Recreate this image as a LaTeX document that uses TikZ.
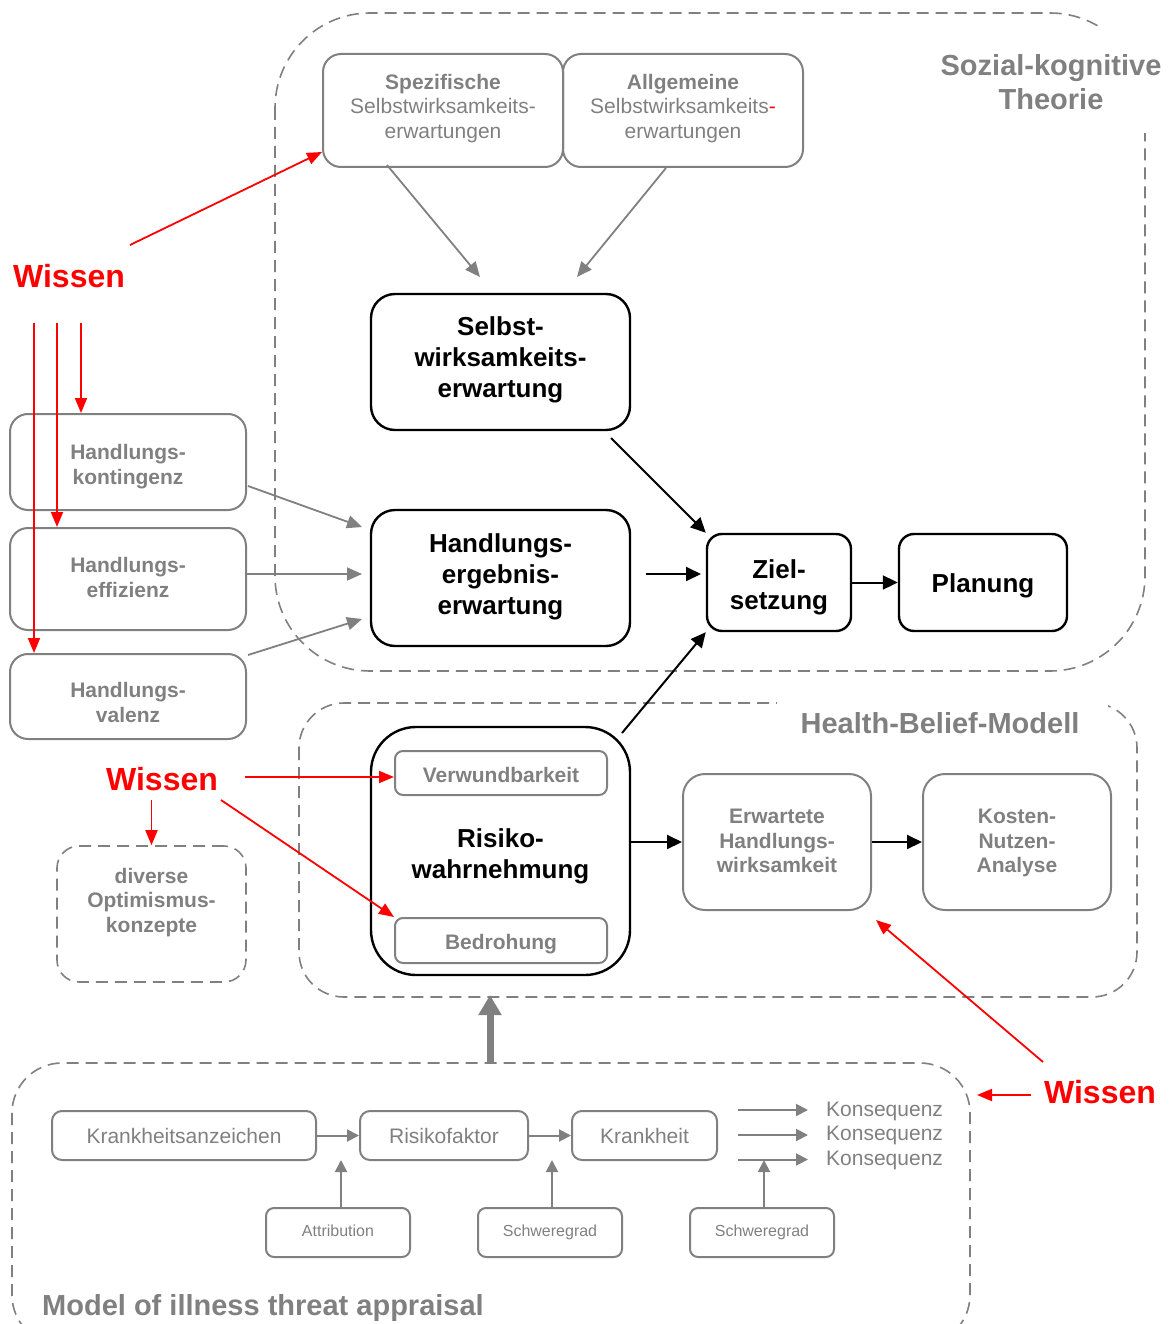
\documentclass[tikz,border=0pt]{standalone}
\usepackage{fontspec}
\setmainfont{Liberation Sans}
\usetikzlibrary{arrows.meta}
\definecolor{gr}{HTML}{808080}
\definecolor{rd}{HTML}{FF0000}
\newcommand\fsT{\fontsize{29}{34}\selectfont\bfseries}
\newcommand\fsW{\fontsize{32}{36}\selectfont\bfseries}
\newcommand\fsB{\fontsize{26}{31}\selectfont\bfseries}
\newcommand\fsG{\fontsize{21}{24.5}\selectfont}
\newcommand\fsS{\fontsize{16}{19}\selectfont}
\begin{document}
\begin{tikzpicture}[x=1pt,y=-1pt,
  dbox/.style={draw=gr, line width=1.6pt, dash pattern=on 12pt off 7pt, rounded corners=#1},
  gbox/.style={draw=gr, line width=2pt, rounded corners=#1, text=gr, align=center, inner sep=0pt},
  bbox/.style={draw=black, line width=2.4pt, rounded corners=#1, align=center, inner sep=0pt, font=\fsB},
  btxt/.style={inner sep=0pt, align=center, font=\fsB},
  gtxt/.style={inner sep=0pt, align=center, text=gr, font=\fsG\bfseries},
  garr/.style={draw=gr, line width=1.8pt, -{Triangle[length=15pt,width=13pt]}},
  sarr/.style={draw=gr, line width=2pt, -{Triangle[length=12pt,width=12pt]}},
  barr/.style={draw=black, line width=2pt, -{Triangle[length=15pt,width=14pt]}},
  rarr/.style={draw=rd, line width=1.8pt, -{Triangle[length=15pt,width=12pt]}},
  wissen/.style={text=rd, font=\fsW, inner sep=0pt},
  ttl/.style={text=gr, font=\fsT, align=center, inner sep=0pt},
]
\useasboundingbox (0,0) rectangle (1171,1324);

% ---------- dashed frames ----------
\draw[dbox=95] (275,13) rectangle (1145,671);
\fill[white] (1097,26) rectangle (1171,133);
\node[ttl] (tsoz) at (1051,82) {Sozial-kognitive\\Theorie};

\draw[dbox=45] (299,703) rectangle (1137,997);
\fill[white] (777,695) rectangle (1108,712);
\node[ttl] (thbm) at (940,723) {Health-Belief-Modell};

\draw[dbox=50] (12,1063) rectangle (970,1345);
\node[ttl, anchor=west] (tmod) at (42,1308) {Model of illness threat appraisal};

% ---------- top: social-cognitive ----------
\node[gbox=18pt, minimum width=240pt, minimum height=113pt,
  label={[gtxt, font=\fsG, yshift=2pt]center:{{\bfseries Spezifische}\\Selbstwirksamkeits-\\erwartungen}}] (spez) at (443,110.5) {};
\node[gbox=18pt, minimum width=240pt, minimum height=113pt,
  label={[gtxt, font=\fsG, yshift=2pt]center:{{\bfseries Allgemeine}\\Selbstwirksamkeits\textcolor{rd}{-}\\erwartungen}}] (allg) at (683,110.5) {};

\node[bbox=24pt, minimum width=259pt, minimum height=136pt,
  label={[btxt, yshift=2pt]center:{Selbst-\\wirksamkeits-\\erwartung}}] (swe) at (500.5,362) {};
\node[bbox=24pt, minimum width=259pt, minimum height=136pt,
  label={[btxt, yshift=1pt]center:{Handlungs-\\ergebnis-\\erwartung}}] (heg) at (500.5,578) {};
\node[bbox=15pt, minimum width=144pt, minimum height=97pt,
  label={[btxt, yshift=-5pt]center:{Ziel-\\setzung}}] (ziel) at (779,582.5) {};
\node[bbox=15pt, minimum width=168pt, minimum height=97pt,
  label={[btxt, yshift=-3pt]center:{Planung}}] (plan) at (983,582.5) {};

\node[gbox=18pt, minimum width=236pt, minimum height=96pt,
  label={[gtxt, yshift=-4.5pt]center:{Handlungs-\\kontingenz}}] (hk) at (128,462) {};
\node[gbox=18pt, minimum width=236pt, minimum height=102pt,
  label={[gtxt, yshift=1.5pt]center:{Handlungs-\\effizienz}}] (he) at (128,579) {};
\node[gbox=18pt, minimum width=236pt, minimum height=85pt,
  label={[gtxt, yshift=-6pt]center:{Handlungs-\\valenz}}] (hv) at (128,696.5) {};

% gray arrows into SWE
\coordinate (spez-o) at (387,165);
\coordinate (swe-i1) at (480,277);
\coordinate (allg-o) at (666,168);
\coordinate (swe-i2) at (577,277);
\draw[garr] (spez-o) -- (swe-i1);
\draw[garr] (allg-o) -- (swe-i2);

% gray arrows into HEG
\coordinate (hk-o) at (248,486);
\coordinate (heg-i1) at (362,527);
\coordinate (he-o) at (246,574);
\coordinate (heg-i2) at (362,574);
\coordinate (hv-o) at (248,655);
\coordinate (heg-i3) at (362,619);
\draw[garr] (hk-o) -- (heg-i1);
\draw[garr] (he-o) -- (heg-i2);
\draw[garr] (hv-o) -- (heg-i3);

% black arrows
\coordinate (swe-o) at (611,438);
\draw[barr] (swe-o) -- (ziel.north west);
\coordinate (heg-o) at (646,574);
\coordinate (ziel-i) at (701,574);
\draw[barr] (heg-o) -- (ziel-i);
\draw[barr] (ziel.east) -- (plan.west);

% ---------- Health belief ----------
\node[bbox=45pt, minimum width=259pt, minimum height=248pt,
  label={[btxt, yshift=-5.5pt]center:{Risiko-\\wahrnehmung}}] (risk) at (500.5,851) {};
\node[gbox=8pt, minimum width=212pt, minimum height=44pt,
  label={[gtxt, yshift=-2pt]center:{Verwundbarkeit}}] (verw) at (501,773) {};
\node[gbox=8pt, minimum width=212pt, minimum height=45pt,
  label={[gtxt, yshift=-4pt]center:{Bedrohung}}] (bedr) at (501,940.5) {};
\node[gbox=22pt, minimum width=188pt, minimum height=136pt,
  label={[gtxt, yshift=1pt]center:{Erwartete\\Handlungs-\\wirksamkeit}}] (erw) at (777,842) {};
\node[gbox=22pt, minimum width=188pt, minimum height=136pt,
  label={[gtxt, yshift=-1pt]center:{Kosten-\\Nutzen-\\Analyse}}] (kna) at (1017,842) {};
\node[gbox=22pt, dash pattern=on 12pt off 7pt, line width=1.6pt, minimum width=189pt, minimum height=136pt,
  label={[gtxt, yshift=11.5pt]center:{diverse\\Optimismus-\\konzepte}}] (opt) at (151.5,914) {};

\coordinate (risk-o) at (622,733);
\draw[barr] (risk-o) -- (ziel.south west);
\draw[barr] (risk.east |- erw.west) -- (erw.west);
\draw[barr] (erw.east) -- (kna.west);

% ---------- illness threat appraisal ----------
\node[gbox=10pt, minimum width=264pt, minimum height=49pt, font=\fsG] (kz) at (184,1135.5) {Krankheitsanzeichen};
\node[gbox=10pt, minimum width=168pt, minimum height=49pt, font=\fsG] (rf) at (444,1135.5) {Risikofaktor};
\node[gbox=10pt, minimum width=145pt, minimum height=49pt, font=\fsG] (kh) at (644.5,1135.5) {Krankheit};
\node[gbox=8pt, minimum width=144pt, minimum height=49pt, font=\fsS,
  label={[inner sep=0pt, text=gr, font=\fsS, yshift=2pt]center:{Attribution}}] (attr) at (338,1232.5) {};
\node[gbox=8pt, minimum width=144pt, minimum height=49pt, font=\fsS] (sg1) at (550,1232.5) {Schweregrad};
\node[gbox=8pt, minimum width=144pt, minimum height=49pt, font=\fsS] (sg2) at (762,1232.5) {Schweregrad};

\node[text=gr, font=\fsG, inner sep=0pt, anchor=west] (k1) at (826,1111) {Konsequenz};
\node[text=gr, font=\fsG, inner sep=0pt, anchor=west] (k2) at (826,1135.5) {Konsequenz};
\node[text=gr, font=\fsG, inner sep=0pt, anchor=west] (k3) at (826,1160) {Konsequenz};

\draw[sarr] (kz.east) -- (rf.west);
\draw[sarr] (rf.east) -- (kh.west);
\coordinate (c1s) at (738,1110); \coordinate (c1e) at (808,1110);
\coordinate (c2s) at (738,1135); \coordinate (c2e) at (808,1135);
\coordinate (c3s) at (738,1159.5); \coordinate (c3e) at (808,1159.5);
\draw[sarr] (c1s) -- (c1e);
\draw[sarr] (c2s) -- (c2e);
\draw[sarr] (c3s) -- (c3e);
\coordinate (attr-o) at (341,1208); \coordinate (attr-t) at (341,1160);
\coordinate (sg1-o) at (552,1208); \coordinate (sg1-t) at (552,1160);
\coordinate (sg2-o) at (764,1208); \coordinate (sg2-t) at (764,1160);
\draw[sarr] (attr-o) -- (attr-t);
\draw[sarr] (sg1-o) -- (sg1-t);
\draw[sarr] (sg2-o) -- (sg2-t);

% thick arrow up
\coordinate (mod-top) at (490,1063);
\coordinate (hbm-bot) at (490,995);
\draw[draw=gr, line width=7pt, -{Triangle[length=20pt,width=22pt]}] (mod-top) -- (hbm-bot);

% ---------- Wissen (red) ----------
\node[wissen] (w1) at (69,276) {Wissen};
\node[wissen] (w2) at (162,779) {Wissen};
\node[wissen] (w3) at (1100,1092) {Wissen};

\coordinate (w1-o) at (130,245);
\coordinate (spez-i) at (322,152);
\draw[rarr] (w1-o) -- (spez-i);
\coordinate (w1-a) at (34,323);
\coordinate (w1-b) at (57,323);
\coordinate (w1-c) at (81,323);
\draw[rarr] (w1-a) -- (w1-a |- hv.north);
\draw[rarr] (w1-b) -- (w1-b |- he.north);
\draw[rarr] (w1-c) -- (w1-c |- hk.north);

\coordinate (w2-r) at (245,777);
\coordinate (w2-d) at (221,800);
\coordinate (w2-b) at (151.5,800);
\draw[rarr] (w2-r) -- (verw.west |- w2-r);
\draw[rarr] (w2-d) -- (bedr.north west);
\draw[rarr] (w2-b) -- (opt.north);

\coordinate (w3-l) at (1031,1095);
\coordinate (mod-r) at (977,1095);
\draw[rarr] (w3-l) -- (mod-r);
\coordinate (w3-u) at (1043,1062);
\coordinate (erw-r) at (876,920);
\draw[rarr] (w3-u) -- (erw-r);
\end{tikzpicture}
\end{document}
